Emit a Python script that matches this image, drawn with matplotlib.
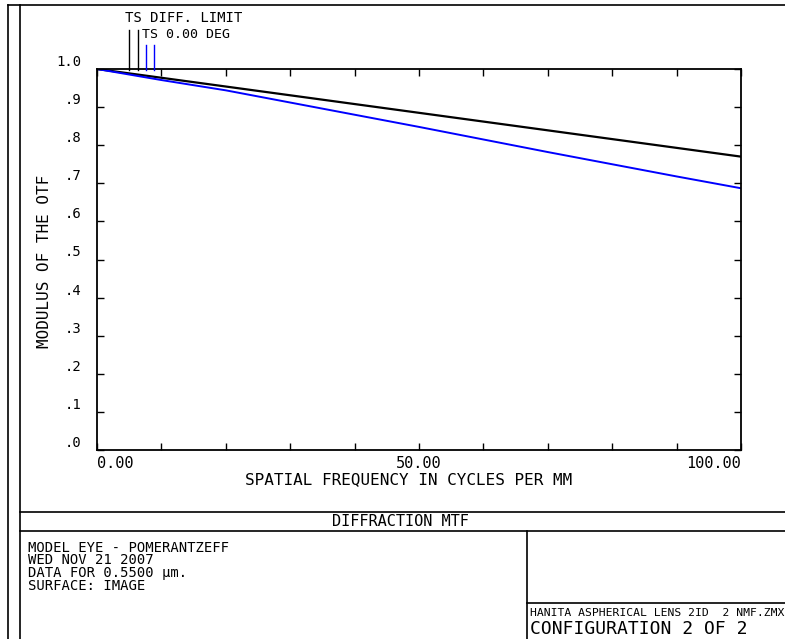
import matplotlib
matplotlib.use("Agg")
import matplotlib.pyplot as plt
from matplotlib.lines import Line2D
import numpy as np

# MTF data
freq = [0, 10, 20, 30, 40, 50, 60, 70, 80, 90, 100]
ts_diff_limit = [1.0, 0.977, 0.954, 0.931, 0.908, 0.885, 0.862, 0.839, 0.816, 0.793, 0.770]
ts_0deg = [1.0, 0.971, 0.944, 0.912, 0.880, 0.848, 0.815, 0.782, 0.750, 0.718, 0.687]

yticks = [0.0, 0.1, 0.2, 0.3, 0.4, 0.5, 0.6, 0.7, 0.8, 0.9, 1.0]
ytick_labels = [".0", ".1", ".2", ".3", ".4", ".5", ".6", ".7", ".8", ".9", "1.0"]
info_lines = ["MODEL EYE - POMERANTZEFF", "WED NOV 21 2007",
              "DATA FOR 0.5500 \u00b5m.", "SURFACE: IMAGE"]

W, H = 785, 639
FONT = "DejaVu Sans Mono"

fig = plt.figure(figsize=(W / 100, H / 100), dpi=100)

def fx(px):
    return px / W

def fy(py):
    return 1 - py / H

def hline(y, x0, x1, lw=1.2):
    fig.add_artist(Line2D([fx(x0), fx(x1)], [fy(y), fy(y)], color="black", lw=lw))

def vline(x, y0, y1, lw=1.2, color="black"):
    fig.add_artist(Line2D([fx(x), fx(x)], [fy(y0), fy(y1)], color=color, lw=lw))

def txt(x, y, s, size=9, ha="left", va="center", **kw):
    fig.text(fx(x), fy(y), s, fontsize=size, ha=ha, va=va, family=FONT, **kw)

# plot area
left, right, top, bottom = 97, 741, 69, 450
ax = fig.add_axes([fx(left), fy(bottom), fx(right - left), (bottom - top) / H])
ax.plot(freq, ts_diff_limit, color="black", lw=1.6)
ax.plot(freq, ts_0deg, color="blue", lw=1.4)
ax.set_xlim(0, 100)
ax.set_ylim(0, 1)
ax.set_xticks(np.arange(0, 101, 10))
ax.set_xticklabels([])
ax.set_yticks(yticks)
ax.set_yticklabels([])
ax.tick_params(direction="in", length=5, width=1, top=True, right=True)
for sp in ax.spines.values():
    sp.set_linewidth(1.3)

for v, lab in zip(yticks, ytick_labels):
    txt(81, bottom - v * (bottom - top) - 7, lab, size=10, ha="right")
txt(97, 464, "0.00", size=11)
txt(419, 464, "50.00", size=11, ha="center")
txt(741, 464, "100.00", size=11, ha="right")
txt(409, 480, "SPATIAL FREQUENCY IN CYCLES PER MM", size=11.5, ha="center")
txt(45, 261, "MODULUS OF THE OTF", size=11.5, ha="center", rotation=90)

# legend marks
txt(125, 18, "TS DIFF. LIMIT", size=10)
txt(142, 34, "TS 0.00 DEG", size=9.5)
vline(129, 30, 70, lw=1)
vline(138, 30, 70, lw=1)
vline(146, 45, 70, lw=1, color="blue")
vline(154, 45, 70, lw=1, color="blue")

# frame
vline(8, 5, H)
vline(20, 5, H)
hline(5, 8, W)
hline(512, 20, W)
hline(531, 20, W)
vline(527, 531, H)
hline(603, 527, W)
txt(400, 521, "DIFFRACTION MTF", size=11, ha="center")
for i, s in enumerate(info_lines):
    txt(28, 548 + i * 12.5, s, size=10)
txt(530, 613, "HANITA ASPHERICAL LENS 2ID  2 NMF.ZMX", size=8.2)
txt(530, 629, "CONFIGURATION 2 OF 2", size=13)

fig.savefig("out.png", dpi=100)
